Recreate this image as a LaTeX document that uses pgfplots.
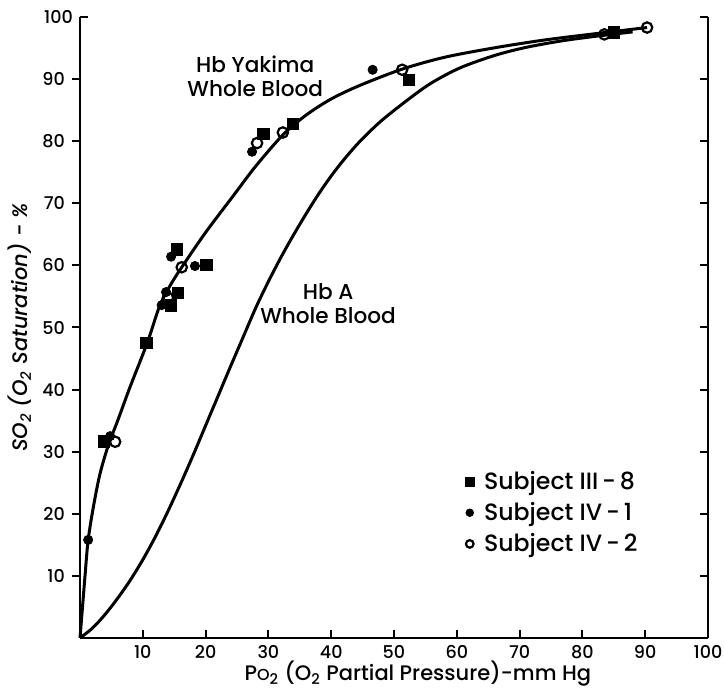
\documentclass[border=0pt]{standalone}
\usepackage{pgfplots}
\pgfplotsset{compat=1.18}
\usepackage{fontspec}
\setmainfont{Poppins}[UprightFont=* Medium,ItalicFont=* Medium Italic,BoldFont=* SemiBold]
\pgfplotsset{base/.style={at={(0,0)},anchor=south west,scale only axis,
  width=314pt,height=310.5pt,xmin=0,xmax=100,ymin=0,ymax=100,
  major tick length=4pt,
  every tick/.style={black,line width=1pt},
  /pgf/number format/assume math mode=true,
  tick label style={font=\fontsize{8.8}{10}\selectfont}},
  noarrow/.style={axis line style={-,line width=1pt},
  every outer x axis line/.append style={-},every outer y axis line/.append style={-},
  every inner x axis line/.append style={-},every inner y axis line/.append style={-}}}
\begin{document}
\begin{tikzpicture}
\path[use as bounding box] (-40pt,-25pt) rectangle (322pt,319pt);
% bottom axis
\begin{axis}[base,axis x line=bottom,axis y line=none,noarrow,tick align=inside,
  xtick={10,20,...,100},xticklabels={10,20,30,40,50,60,70,80,90,100}]
\end{axis}
% right axis
\begin{axis}[base,axis x line=none,axis y line=right,noarrow,tick align=inside,
  ytick={10,20,...,100},yticklabels={}]
\end{axis}
% left axis with data
\begin{axis}[base,axis x line=none,axis y line=left,noarrow,tick align=outside,
  ytick={10,20,...,90},yticklabels={10,20,30,40,50,60,70,80,90},
  extra y ticks={100},extra y tick labels={100},
  extra y tick style={tick align=inside},
  clip=false,
  legend cell align=left,
  legend style={draw=none,fill=none,at={(axis cs:61.3,27.6)},anchor=north west,
    font=\fontsize{11.8}{14.5}\selectfont,row sep=1pt,column sep=3pt,inner sep=0pt},
  ]
% Hb Yakima curve
\addplot[black,line width=1.5pt,smooth,forget plot] coordinates {
(0,0) (0.4,5) (0.8,10) (1.3,15.8) (2.2,21.5) (3.2,26.5) (4.5,31) (6,35)
(8,40.5) (10.7,47.5) (12.7,53.5) (14.5,57) (16.4,60) (20,65.3) (24.4,71.2)
(28,76) (32.3,81) (36,84.2) (40,86.8) (44.6,89) (51.3,91.6) (58,93.5)
(65.8,95) (74,96.3) (82.8,97.4) (90.3,98.3)};
% Hb A curve
\addplot[black,line width=1.5pt,smooth,forget plot] coordinates {
(0,0) (2,1.6) (4,3.8) (6,6.4) (8,9.3) (10,12.6) (12,16.3) (14,20.4)
(16,24.8) (18,29.4) (20,34.2) (22,39) (24,43.8) (26,48.5) (28,53.2)
(30,57.4) (32,61.3) (34,64.9) (36,68.3) (38,71.5) (40,74.4) (42,77)
(44.6,80) (48,83.3) (52.5,86.9) (56,89.4) (60.5,91.8) (66,93.8) (71,95.1)
(77,96.2) (83,97) (88,97.6)};
% Subject III-8
\addplot[only marks,mark=square*,mark size=2.9pt,black,
  legend image post style={mark size=2.2pt}] coordinates {
(3.8,31.7) (10.6,47.5) (14.5,53.6) (15.6,55.6) (15.4,62.6) (20.1,60.1)
(29.2,81.2) (33.9,82.8) (52.4,89.9) (85,97.5)};
\addlegendentry{Subject III\,-\,8}
% Subject IV-1
\addplot[only marks,mark=*,mark size=2.3pt,black,
  legend image post style={mark size=1.9pt}] coordinates {
(1.3,15.8) (4.8,32.5) (13.0,53.6) (13.7,55.7) (14.5,61.4) (18.3,59.9)
(27.4,78.3) (46.6,91.5)};
\addlegendentry{Subject IV\,-\,1}
% Subject IV-2
\addplot[only marks,mark=o,mark size=2.6pt,black,line width=1.1pt,
  mark options={fill=white},
  legend image post style={mark size=1.9pt}] coordinates {
(5.6,31.6) (14.0,54.8) (16.2,59.7) (28.2,79.7) (32.3,81.4) (51.3,91.5)
(83.5,97.2) (90.3,98.3)};
\addlegendentry{Subject IV\,-\,2}
\node[align=center,font=\fontsize{10.8}{12}\selectfont] at (axis cs:27.9,90.4)
  {Hb Yakima\\Whole Blood};
\node[align=center,font=\fontsize{10.8}{12}\selectfont] at (axis cs:39.5,53.8)
  {Hb A\\Whole Blood};
\node[anchor=base,font=\fontsize{10.5}{12}\selectfont] at ([yshift=-21.5pt]axis cs:53.8,0)
  {P{\footnotesize O}\textsubscript{2} (O\textsubscript{2} Partial Pressure)-mm Hg};
\node[rotate=90,font=\itshape\fontsize{10.5}{12}\selectfont] at ([xshift=-30pt]axis cs:0,50)
  {SO\textsubscript{2} (O\textsubscript{2} Saturation) - \%};
\end{axis}
\end{tikzpicture}
\end{document}
